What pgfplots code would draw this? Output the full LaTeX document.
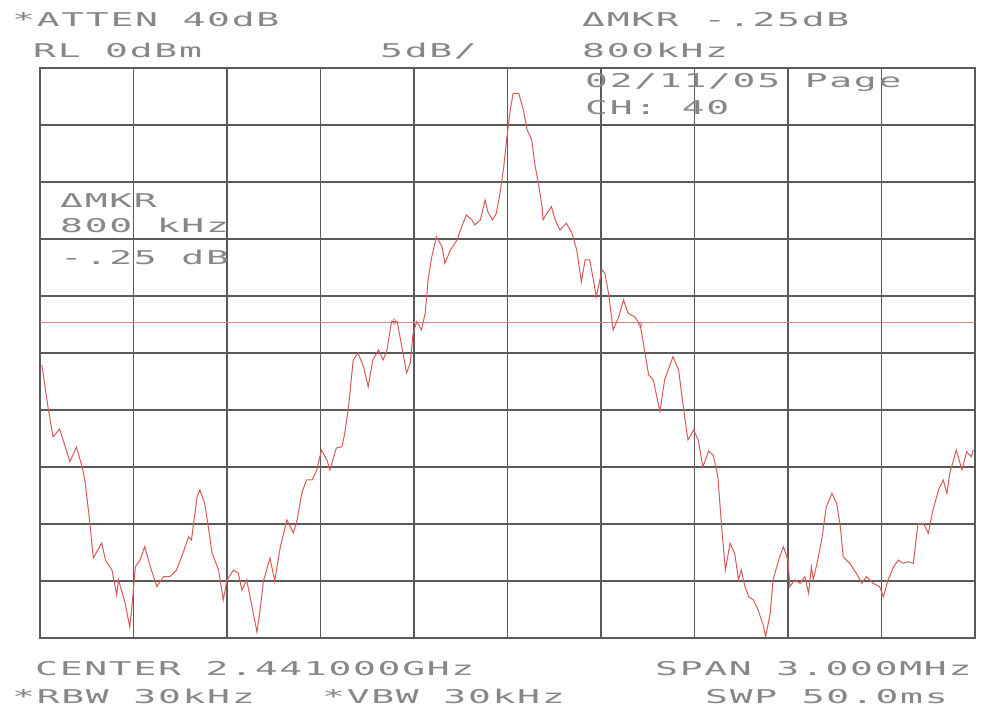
\documentclass[border=0pt]{standalone}
\usepackage{pgfplots}
\pgfplotsset{compat=1.18}
\usepackage{fontspec}
\newfontfamily\plotfont[FakeStretch=2.0,LetterSpace=9]{DejaVu Sans Mono}
\definecolor{trace}{RGB}{215,90,90}
\definecolor{gridc}{RGB}{90,90,90}
\definecolor{txt}{RGB}{135,135,135}
\begin{document}
\begin{tikzpicture}[x=1bp,y=1bp]
\path[use as bounding box] (-40,-75) rectangle (944,638);
\begin{axis}[at={(0,0)},anchor=south west,scale only axis,
  width=935bp,height=570bp,
  xmin=0,xmax=10,ymin=-50,ymax=0,
  xtick={0,1,...,10},ytick={-50,-45,...,0},
  xticklabels={},yticklabels={},
  major tick length=0pt,
  grid=major,grid style={gridc,line width=1.4bp},
  axis line style={gridc,line width=1.6bp},
  clip=true]
\addplot[trace!75,line width=0.9bp] coordinates {(0,-22.28) (10,-22.28)};
\addplot[trace,line width=1bp] coordinates {
(0.02,-26.05) (0.09,-30.00) (0.14,-32.34) (0.21,-31.67) (0.32,-34.54) (0.39,-33.25)
(0.45,-34.97) (0.48,-36.14) (0.53,-39.65) (0.57,-42.98) (0.66,-41.67) (0.70,-43.16)
(0.77,-44.04) (0.82,-46.23) (0.84,-44.91) (0.91,-46.93) (0.96,-49.04) (0.98,-47.54)
(1.02,-43.75) (1.07,-43.16) (1.12,-41.99) (1.18,-43.75) (1.25,-45.50) (1.32,-44.62)
(1.39,-44.62) (1.46,-44.04) (1.53,-42.54) (1.59,-41.11) (1.62,-41.40) (1.68,-37.61)
(1.71,-37.02) (1.76,-38.16) (1.80,-40.24) (1.84,-42.54) (1.91,-44.04) (1.96,-46.67)
(2.00,-44.91) (2.07,-44.04) (2.12,-44.30) (2.16,-45.79) (2.21,-44.91) (2.26,-46.93)
(2.32,-49.47) (2.35,-47.81) (2.39,-45.00) (2.46,-42.98) (2.51,-45.00) (2.57,-42.02)
(2.64,-39.65) (2.71,-40.79) (2.75,-39.65) (2.80,-37.28) (2.85,-36.14) (2.91,-36.14)
(2.96,-35.26) (3.01,-33.51) (3.07,-34.39) (3.10,-35.26) (3.17,-33.33) (3.23,-33.22)
(3.26,-32.02) (3.30,-29.71) (3.35,-25.61) (3.40,-25.00) (3.46,-26.20) (3.51,-27.96)
(3.56,-25.61) (3.62,-24.74) (3.67,-25.61) (3.71,-24.74) (3.76,-22.25) (3.82,-22.25)
(3.87,-24.45) (3.92,-26.75) (3.96,-25.88) (3.99,-23.25) (4.03,-22.25) (4.08,-22.98)
(4.12,-21.49) (4.15,-18.60) (4.19,-16.55) (4.24,-14.80) (4.30,-15.68) (4.33,-17.13)
(4.39,-15.96) (4.46,-15.09) (4.51,-13.92) (4.56,-12.89) (4.62,-13.33) (4.65,-13.77)
(4.71,-13.33) (4.76,-11.58) (4.79,-12.61) (4.84,-13.33) (4.88,-12.75) (4.92,-10.99)
(4.96,-8.66) (4.99,-6.32) (5.03,-3.68) (5.06,-2.22) (5.12,-2.22) (5.17,-3.68)
(5.21,-5.44) (5.26,-6.32) (5.29,-8.36) (5.33,-10.11) (5.37,-12.17) (5.38,-13.33)
(5.42,-12.75) (5.47,-12.17) (5.51,-13.33) (5.56,-14.21) (5.63,-13.62) (5.69,-14.50)
(5.74,-15.96) (5.79,-18.75) (5.83,-16.84) (5.88,-16.84) (5.95,-20.06) (6.01,-17.72)
(6.04,-17.98) (6.08,-19.74) (6.13,-22.98) (6.19,-21.82) (6.24,-20.35) (6.29,-21.52)
(6.36,-21.82) (6.42,-22.54) (6.47,-25.00) (6.51,-26.93) (6.56,-27.37) (6.63,-30.15)
(6.68,-27.37) (6.77,-25.32) (6.83,-26.49) (6.88,-29.71) (6.93,-32.63) (6.99,-31.75)
(7.04,-32.63) (7.09,-35.00) (7.15,-33.60) (7.20,-33.95) (7.25,-35.85) (7.29,-40.24)
(7.33,-44.04) (7.38,-41.69) (7.43,-42.57) (7.47,-44.91) (7.50,-44.04) (7.54,-45.50)
(7.58,-46.38) (7.63,-46.67) (7.68,-47.54) (7.74,-49.01) (7.76,-49.89) (7.81,-47.83)
(7.84,-44.91) (7.90,-43.16) (7.95,-41.99) (8.00,-43.16) (8.02,-45.50) (8.07,-44.91)
(8.13,-45.20) (8.18,-44.62) (8.22,-46.08) (8.25,-43.75) (8.27,-44.91) (8.31,-43.45)
(8.36,-41.40) (8.41,-38.48) (8.47,-37.31) (8.52,-38.18) (8.56,-40.24) (8.59,-42.87)
(8.66,-43.45) (8.73,-44.32) (8.79,-45.20) (8.84,-44.62) (8.91,-45.20) (8.98,-45.50)
(9.02,-46.38) (9.07,-44.91) (9.13,-43.75) (9.18,-43.16) (9.23,-43.45) (9.29,-43.31)
(9.34,-43.45) (9.39,-39.94) (9.45,-39.94) (9.50,-40.82) (9.55,-38.77) (9.61,-37.02)
(9.66,-36.14) (9.70,-37.31) (9.73,-35.55) (9.80,-33.51) (9.86,-35.26) (9.91,-33.66)
(9.96,-34.10) (9.98,-33.51)
};
\addplot[trace,only marks,mark=diamond,mark size=3bp] coordinates {(3.79,-22.25) (6.42,-22.54)};
\end{axis}
\begin{scope}[every node/.style={anchor=base west,inner sep=0pt,text=txt,font=\plotfont\fontsize{19bp}{19bp}\selectfont}]
\node at (-28,611) {*ATTEN 40dB};
\node at (-7,580) {RL 0dBm};
\node at (340,580) {5dB/};
\node at (542,611) {ΔMKR -.25dB};
\node at (542,580) {800kHz};
\node at (545,550) {02/11/05 Page};
\node at (545,523) {CH: 40};
\node at (20,430) {ΔMKR};
\node at (20,405) {800 kHz};
\node at (20,373) {-.25 dB};
\node at (-5,-38) {CENTER 2.441000GHz};
\node at (615,-38) {SPAN 3.000MHz};
\node at (-28,-66) {*RBW 30kHz};
\node at (282,-66) {*VBW 30kHz};
\node at (665,-66) {SWP 50.0ms};
\end{scope}
\end{tikzpicture}
\end{document}
